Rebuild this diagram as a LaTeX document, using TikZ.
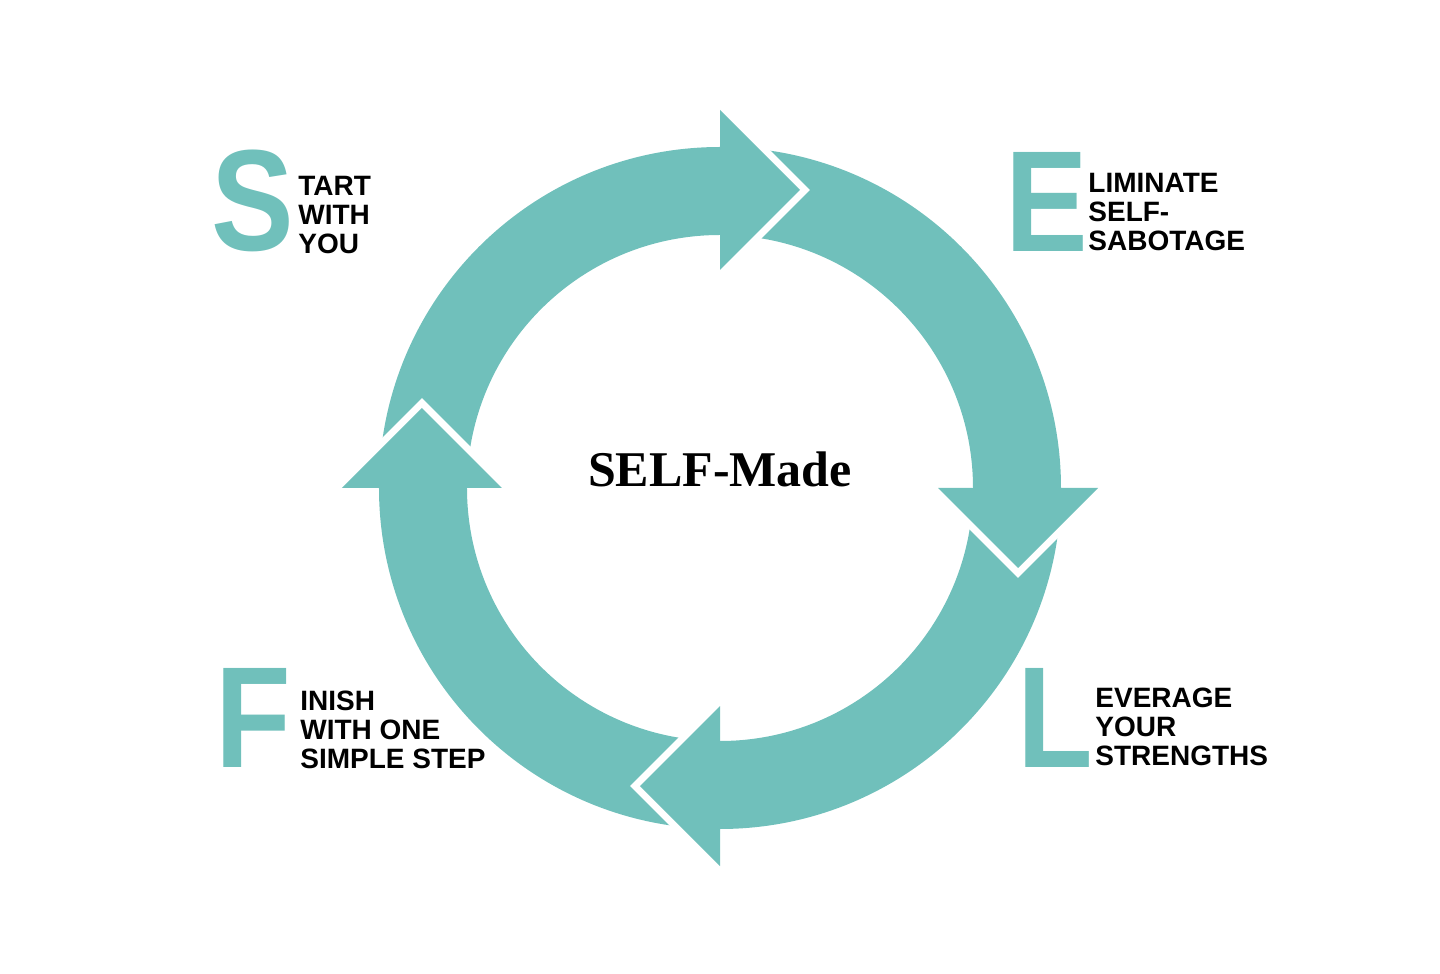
\documentclass[tikz,border=0pt]{standalone}
\usepackage{fontspec}
\setmainfont{Liberation Serif}
\setsansfont{Liberation Sans}
\definecolor{selfteal}{RGB}{112,192,187}
\newcommand{\capletter}[1]{\scalebox{0.86}[1]{#1}}

\begin{document}
\begin{tikzpicture}[x=0.5pt, y=0.5pt,
    ring/.style={fill=selfteal},
    headgap/.style={draw=white, line width=7pt, line join=miter},
    bigletter/.style={anchor=north west, inner sep=0pt, text=selfteal,
        font=\sffamily\bfseries\fontsize{72}{72}\selectfont},
    words/.style={anchor=north west, inner sep=0pt, align=left,
        font=\sffamily\bfseries\fontsize{14}{14.5}\selectfont}]
    \useasboundingbox (-720,-486) rectangle (720,488);
    % the four quarters of the ring
    \foreach \a in {90,0,-90,180}
        \fill[ring] (\a:253) arc (\a:\a+90:253) -- (\a+90:341) arc (\a+90:\a:341) -- cycle;
    % the heads, each with a white gap in front
    \foreach \a in {90,0,-90,180} {
        \begin{scope}[rotate=\a-90]
            \draw[headgap] (0,218) -- (80,298) -- (0,378);
            \fill[ring] (0,218) -- (80,298) -- (0,378) -- cycle;
        \end{scope}
    }
    \node[anchor=base, font=\bfseries\fontsize{25}{25}\selectfont] (title) at (0,1) {SELF-Made};
    \node[bigletter] (s) at (-509,338) {\capletter{S}};
    \node[words] (start) at (-422,312) {TART\\WITH\\YOU};
    \node[bigletter] (e) at (285,336) {\capletter{E}};
    \node[words] (elim) at (368,315) {LIMINATE\\SELF-\\SABOTAGE};
    \node[bigletter] (f) at (-505,-180) {\capletter{F}};
    \node[words] (finish) at (-420,-203) {INISH\\WITH ONE\\SIMPLE STEP};
    \node[bigletter] (l) at (297,-180) {\capletter{L}};
    \node[words] (lev) at (375,-200) {EVERAGE\\YOUR\\STRENGTHS};
\end{tikzpicture}
\end{document}
